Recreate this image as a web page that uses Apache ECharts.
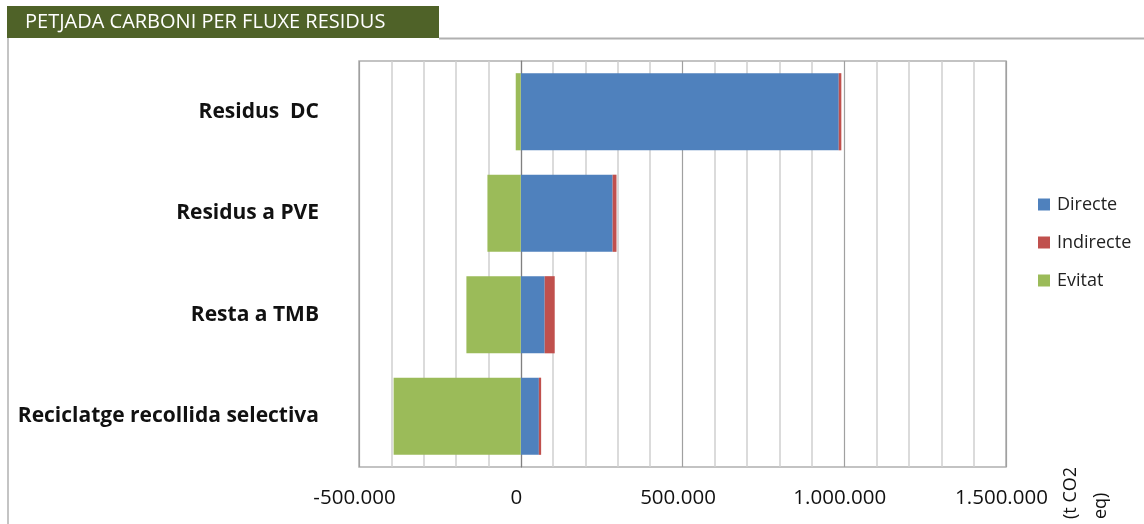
<!DOCTYPE html>
<html>
<head>
<meta charset="utf-8">
<script src="https://cdn.jsdelivr.net/npm/echarts@6/dist/echarts.min.js"></script>
<style>
  html, body { margin: 0; padding: 0; background: #fff; }
  #chart { width: 1144px; height: 524px; }
</style>
</head>
<body>
<div id="chart"></div>
<script>
// Carbon footprint per waste stream (t CO2 eq)
const categories = ['Residus  DC', 'Residus a PVE', 'Resta a TMB', 'Reciclatge recollida selectiva'];
const directe    = [983000, 284000, 74000, 56000];
const indirecte  = [8000, 12000, 31000, 7000];
const evitat     = [-15500, -103000, -168000, -393000];
const seriesNames = ['Directe', 'Indirecte', 'Evitat'];
const seriesColors = ['#4F81BD', '#C0504D', '#9BBB59'];
const axisMin = -500000, axisMax = 1500000, axisStep = 500000;

const FONT = '"Open Sans", Lato, sans-serif';

function fmtThousands(v) {
  const s = Math.abs(v).toString().replace(/\B(?=(\d{3})+(?!\d))/g, '.');
  return (v < 0 ? '-' : '') + s;
}

const chart = echarts.init(document.getElementById('chart'), null, { renderer: 'canvas' });

const dataBySeries = [directe, indirecte, evitat];

chart.setOption({
  animation: false,
  backgroundColor: '#fff',
  textStyle: { fontFamily: FONT },
  grid: {
    left: 359, right: 138, top: 61, bottom: 57,
    show: true, borderColor: '#b0b0b0', borderWidth: 1.5, backgroundColor: 'transparent'
  },
  legend: {
    orient: 'vertical',
    left: 1038, top: 192, padding: 0,
    itemWidth: 12, itemHeight: 12, itemGap: 13,
    icon: 'rect',
    textStyle: {
      fontFamily: FONT, fontSize: 18, color: '#222',
      height: 25, lineHeight: 25, padding: [0, 0, 0, 2]
    },
    data: seriesNames
  },
  xAxis: {
    type: 'value',
    min: axisMin, max: axisMax, interval: axisStep,
    axisLine: { show: false },
    axisTick: { show: false },
    axisLabel: {
      formatter: fmtThousands,
      fontFamily: FONT, fontSize: 20.5, color: '#111', margin: 21,
      padding: [0, 9, 0, 0]
    },
    splitLine: { show: true, lineStyle: { color: '#a0a0a0', width: 1.2 } },
    minorTick: { show: false, splitNumber: 5 },
    minorSplitLine: { show: true, lineStyle: { color: '#cfcfcf', width: 1.5 } }
  },
  yAxis: {
    type: 'category',
    inverse: true,
    data: categories,
    axisLine: { show: true, onZero: true, lineStyle: { color: '#808080', width: 1.2 } },
    axisTick: { show: false },
    axisLabel: {
      fontFamily: FONT, fontSize: 21, fontWeight: 'bold', color: '#111', margin: 40
    }
  },
  series: seriesNames.map((name, i) => ({
    name,
    type: 'bar',
    stack: 'total',
    barCategoryGap: '24%',
    itemStyle: { color: seriesColors[i] },
    data: dataBySeries[i]
  })),
  graphic: [
    // title banner
    {
      type: 'rect', left: 7, top: 6, z: 10,
      shape: { width: 432, height: 32 },
      style: { fill: '#4F6228' }
    },
    {
      type: 'text', x: 25, y: 22, z: 11,
      style: {
        text: 'PETJADA CARBONI PER FLUXE RESIDUS', fill: '#fff',
        font: '20px ' + FONT, verticalAlign: 'middle'
      }
    },
    // frame of the chart panel
    {
      type: 'line', z: 10,
      shape: { x1: 439, y1: 38.5, x2: 1144, y2: 38.5 },
      style: { stroke: '#b0b0b0', lineWidth: 2 }
    },
    {
      type: 'line', z: 10,
      shape: { x1: 8, y1: 38, x2: 8, y2: 524 },
      style: { stroke: '#b0b0b0', lineWidth: 1.5 }
    },
    // unit label, rotated
    {
      type: 'text', z: 11,
      x: 1056, y: 519, rotation: Math.PI / 2,
      style: {
        text: '(t CO2\neq)', fill: '#111', font: '18px ' + FONT,
        align: 'left', verticalAlign: 'top', lineHeight: 30
      }
    }
  ]
});
</script>
</body>
</html>
